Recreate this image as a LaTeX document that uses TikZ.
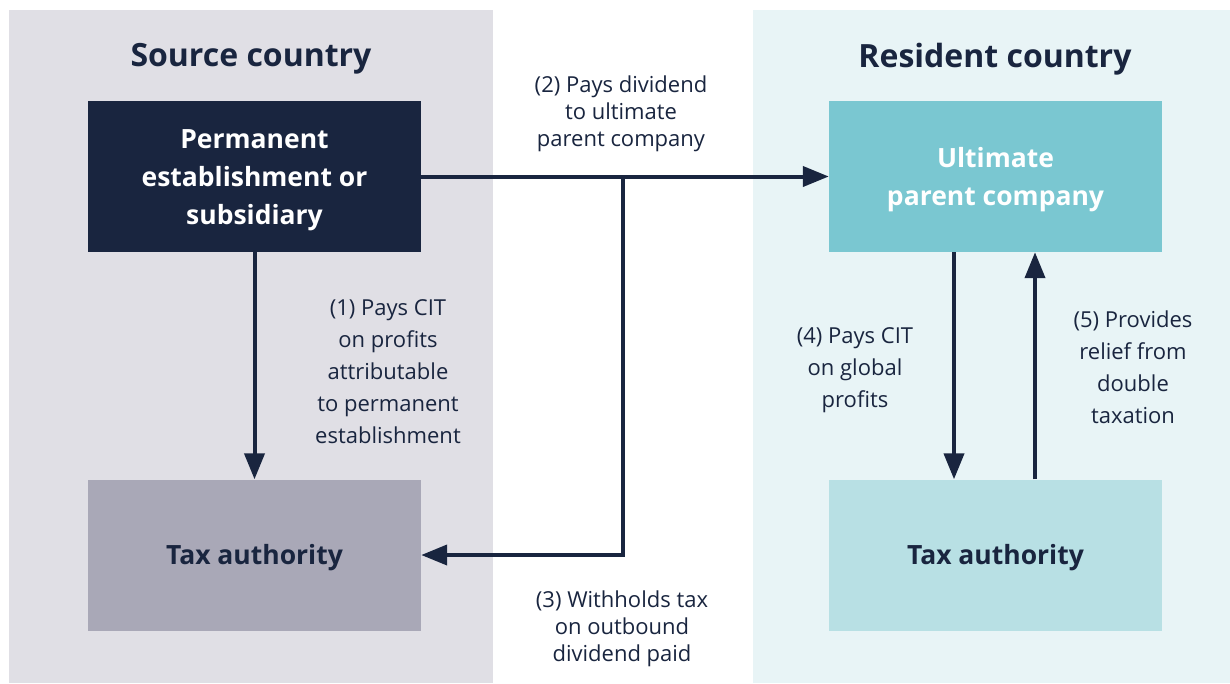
\documentclass[tikz,border=0pt]{standalone}
\usepackage{fontspec}
\setmainfont{Open Sans}
\usetikzlibrary{arrows.meta}
\definecolor{navy}{HTML}{19253F}
\definecolor{srcbg}{HTML}{E0DFE5}
\definecolor{resbg}{HTML}{E8F4F6}
\definecolor{taxL}{HTML}{A9A8B7}
\definecolor{upc}{HTML}{7AC7D1}
\definecolor{taxR}{HTML}{B8E0E4}
\begin{document}
\begin{tikzpicture}[x=1pt,y=-1pt,
  box/.style={draw=none,minimum width=333pt,minimum height=151pt,inner sep=0pt},
  boxtext/.style={align=center,inner sep=0pt,font=\fontsize{26.5}{38}\selectfont\bfseries},
  title/.style={font=\fontsize{32}{38}\selectfont\bfseries,text=navy},
  lbl/.style={font=\fontsize{22}{32}\selectfont,text=navy,align=center},
  lbltight/.style={font=\fontsize{22}{27}\selectfont,text=navy,align=center},
  arr/.style={draw=navy,line width=4pt,-{Triangle[length=26pt,width=20pt]}}
]
\useasboundingbox (0,0) rectangle (1230,683);
\fill[white] (0,0) rectangle (1230,683);
\fill[srcbg] (9,10) rectangle (493,683);
\fill[resbg] (753,10) rectangle (1230,683);

\node[title] (tsrc) at (251,59) {Source country};
\node[title] (tres) at (995,59) {Resident country};

\node[box,fill=navy] (pe) at (254.5,176.5) {};
\node[box,fill=taxL] (txl) at (254.5,555) {};
\node[box,fill=upc] (up) at (995.5,176.5) {};
\node[box,fill=taxR] (txr) at (995.5,555) {};

\node[boxtext,text=white] (pet) at ([yshift=-4pt]pe.center) {Permanent\\establishment or\\subsidiary};
\node[boxtext,text=navy] (txlt) at ([yshift=-3pt]txl.center) {Tax authority};
\node[boxtext,text=white] (upt) at ([yshift=-3pt]up.center) {Ultimate\\parent company};
\node[boxtext,text=navy] (txrt) at ([yshift=-3pt]txr.center) {Tax authority};

\coordinate (br) at (623,176.5);
\coordinate (c4) at (954,0);
\coordinate (c5) at (1035,0);

\draw[arr] (pe.south) -- (txl.north);
\draw[arr] (pe.east) -- (up.west);
\draw[arr] (br) |- (txl.east);
\draw[arr] (up.south -| c4) -- (txr.north -| c4);
\draw[arr] (txr.north -| c5) -- (up.south -| c5);

\node[lbl] (l1) at (388,372) {(1) Pays CIT\\on profits\\attributable\\to permanent\\establishment};
\node[lbltight] (l2) at (621,114) {(2) Pays dividend\\to ultimate\\parent company};
\node[lbltight] (l3) at (622,629) {(3) Withholds tax\\on outbound\\dividend paid};
\node[lbl] (l4) at (855,370) {(4) Pays CIT\\on global\\profits};
\node[lbl] (l5) at (1133,367) {(5) Provides\\relief from\\double\\taxation};
\end{tikzpicture}
\end{document}
